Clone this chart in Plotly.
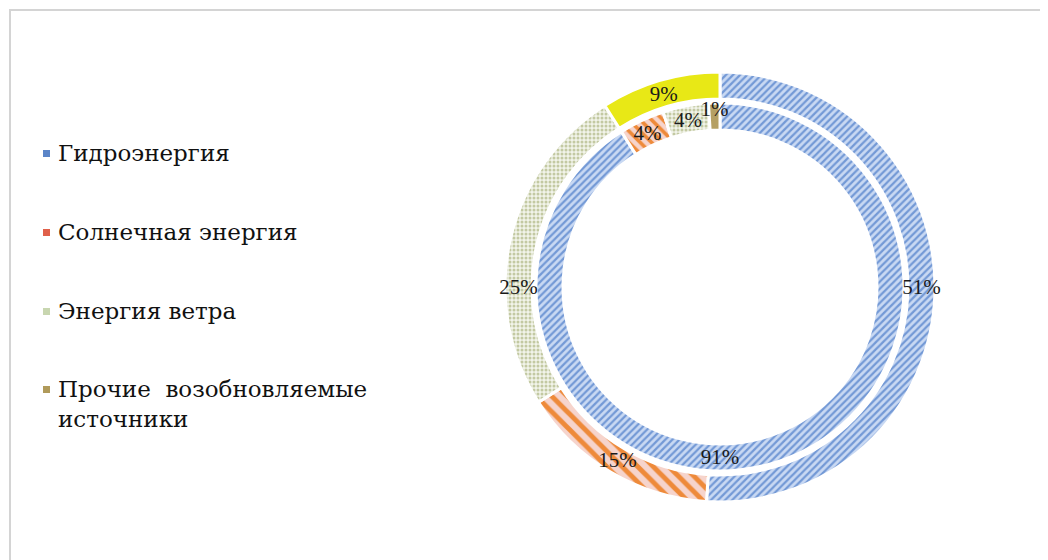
import plotly.graph_objects as go

labels = ["Гидроэнергия", "Солнечная энергия", "Энергия ветра",
          "Прочие возобновляемые источники"]
outer_values = [51, 15, 25, 9]
inner_values = [91, 4, 4, 1]

legend_colors = ["#5B85C8", "#E0604A", "#C8D6B0", "#B09A5A"]

outer_bg = ["#C9D9F3", "#F6D4CC", "#F2F4EA", "#E8E816"]
outer_fg = ["#7399D6", "#EE8A3A", "#C3C9A2", "#E8E816"]
outer_shape = ["/", "\\", ".", ""]
outer_size = [5, 11, 4, 5]

inner_bg = ["#C9D9F3", "#F6D4CC", "#F2F4EA", "#B5A064"]
inner_fg = ["#7399D6", "#EE8A3A", "#C3C9A2", "#B5A064"]
inner_shape = ["/", "\\", ".", ""]
inner_size = [5, 8, 4, 5]

# page is offset by the 8px body margin, so work in shifted coordinates
OFF = 8
W, H = 1048 - OFF, 560 - OFF
cx, cy = 720 - OFF, 287 - OFF
R_out, r_out = 215, 188
R_in, r_in = 184, 157

SERIF = "DejaVu Serif"


def dom(R):
    return dict(x=[(cx - R) / W, (cx + R) / W],
                y=[(H - cy - R) / H, (H - cy + R) / H])


def ring(values, hole, R, bg, fg, shp, sz):
    return go.Pie(
        labels=labels, values=values, sort=False, direction="clockwise",
        rotation=0, hole=hole, domain=dom(R),
        marker=dict(colors=bg,
                    line=dict(color="white", width=3),
                    pattern=dict(shape=shp, bgcolor=bg, fgcolor=fg,
                                 size=sz, solidity=0.45, fillmode="replace")),
        texttemplate="%{percent:.0%}",
        textposition="inside", insidetextorientation="horizontal",
        textfont=dict(family="Liberation Serif", size=21, color="#1a1a1a"),
        showlegend=False, hoverinfo="label+percent",
    )


fig = go.Figure()
# inner ring first so the outer ring's labels are drawn on top
fig.add_trace(ring(inner_values, r_in / R_in, R_in, inner_bg, inner_fg,
                   inner_shape, inner_size))
fig.add_trace(ring(outer_values, r_out / R_out, R_out, outer_bg, outer_fg,
                   outer_shape, outer_size))

# manual legend (left side)
legend_lines = [["Гидроэнергия"], ["Солнечная энергия"], ["Энергия ветра"],
                ["Прочие  возобновляемые", "источники"]]
legend_y = [153, 232, 311, 389]
line_gap = 30

shapes = [dict(type="rect", xref="paper", yref="paper",
               x0=(10 - OFF) / W, y0=-0.02, x1=1.02, y1=1 - (10 - OFF) / H,
               line=dict(color="#D4D4D4", width=2),
               fillcolor="rgba(0,0,0,0)")]
annotations = []
for lines, y, c in zip(legend_lines, legend_y, legend_colors):
    shapes.append(dict(type="rect", xref="paper", yref="paper",
                       x0=(43 - OFF) / W, x1=(50 - OFF) / W,
                       y0=1 - (y - OFF + 4) / H, y1=1 - (y - OFF - 3) / H,
                       line=dict(width=0), fillcolor=c))
    for k, t in enumerate(lines):
        annotations.append(dict(
            xref="paper", yref="paper", x=(56 - OFF) / W,
            y=1 - (y - OFF + k * line_gap) / H, text=t, showarrow=False,
            xanchor="left", yanchor="middle", align="left",
            font=dict(family=SERIF, size=23, color="#111")))

fig.update_layout(
    width=W, height=H, margin=dict(l=0, r=0, t=0, b=0),
    paper_bgcolor="white", plot_bgcolor="white",
    shapes=shapes, annotations=annotations,
    uniformtext=dict(minsize=21, mode="show"),
)
fig.write_html("out.html")
